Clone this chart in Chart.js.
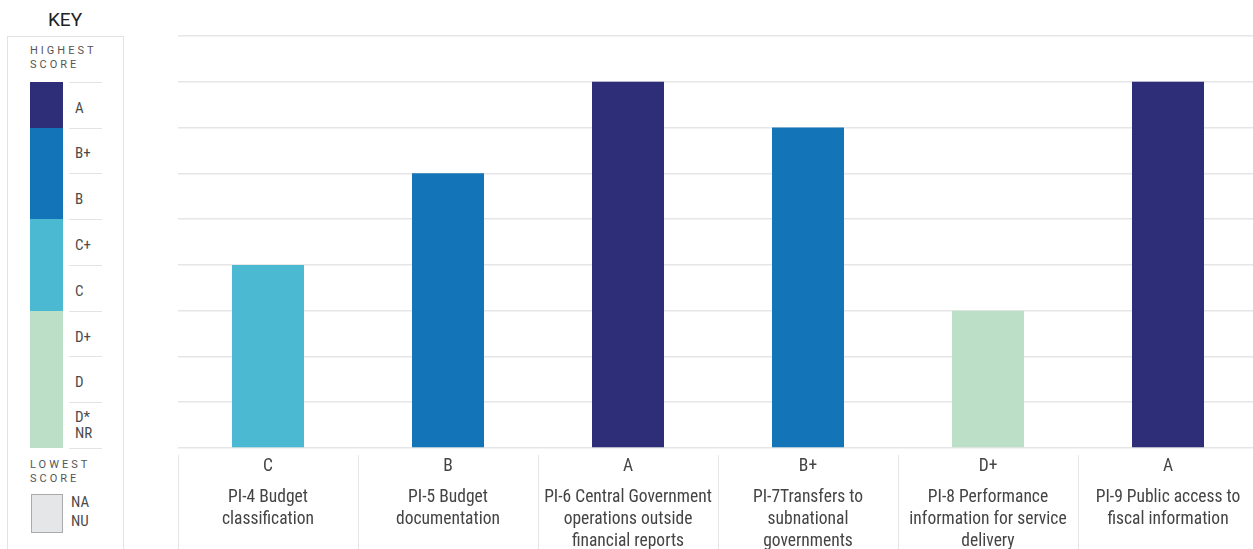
<!DOCTYPE html>
<html>
<head>
<meta charset="utf-8">
<script src="https://cdn.jsdelivr.net/npm/chart.js@4.4.1/dist/chart.umd.min.js"></script>
<style>
    body { margin: 0; width: 1253px; height: 549px; background: #fff; overflow: hidden; position: relative;
           font-family: "Roboto Condensed", "Liberation Sans Narrow", Roboto, sans-serif; color: #333; }
    .abs { position: absolute; }
    #key-title { left: 0; width: 130px; top: 8px; text-align: center; font-family: Roboto, sans-serif; font-size: 19px; font-weight: 400; color: #222; }
    #key-box { left: 7px; top: 36px; width: 115px; height: 530px; border: 1px solid #e3e3e3; }
    .caps { font-family: Roboto, sans-serif; font-size: 11px; letter-spacing: 3px; color: #555; line-height: 14px; }
    .band { left: 30px; width: 33px; }
    .kline { left: 69px; width: 33px; height: 1px; background: #e3e3e3; }
    .klabel { left: 75px; font-size: 15px; color: #4a4a4a; line-height: 16px; }
    #chart-wrap { left: 178px; top: 0; width: 1080px; height: 549px; }
</style>
</head>
<body>
<div id="key-title" class="abs">KEY</div>
<div id="key-box" class="abs"></div>
<div class="abs caps" style="left:30px; top:44px;">HIGHEST<br>SCORE</div>
<div id="key-items"></div>
<div class="abs caps" style="left:30px; top:458px;">LOWEST<br>SCORE</div>
<div class="abs" style="left:31px; top:494px; width:30px; height:37px; background:#e5e6e8; border:1px solid #aaa;"></div>
<div class="abs klabel" style="left:71px; top:494px;">NA</div>
<div class="abs klabel" style="left:71px; top:513px;">NU</div>
<div id="chart-wrap" class="abs"><canvas id="scoreChart"></canvas></div>

<script>
// Données
const categories = [
    ['PI-4 Budget', 'classification'],
    ['PI-5 Budget', 'documentation'],
    ['PI-6 Central Government', 'operations outside', 'financial reports'],
    ['PI-7Transfers to', 'subnational', 'governments'],
    ['PI-8 Performance', 'information for service', 'delivery'],
    ['PI-9 Public access to', 'fiscal information']
];
const scores = ['C', 'B', 'A', 'B+', 'D+', 'A'];
const scoreValues = [4, 6, 8, 7, 3, 8];

// Échelle des notes (du haut vers le bas) pour la légende
const keyLabels = ['A', 'B+', 'B', 'C+', 'C', 'D+', 'D', 'D*\nNR'];
const keyLevels = [8, 7, 6, 5, 4, 3, 2, 1];

function scoreColor(v) {
    if (v >= 8) return '#2e2d78';
    if (v >= 6) return '#1474b8';
    if (v >= 4) return '#4ab9d1';
    return '#bbdfc7';
}

// Légende à gauche, alignée sur les lignes de la grille
function buildKey(chart) {
    const yScale = chart.scales.y;
    const container = document.getElementById('key-items');
    let html = '';
    keyLevels.forEach((level, i) => {
        const top = yScale.getPixelForValue(level);
        const bottom = yScale.getPixelForValue(level - 1);
        html += `<div class="abs band" style="top:${top}px; height:${bottom - top}px; background:${scoreColor(level)}"></div>`;
        html += `<div class="abs kline" style="top:${top}px"></div>`;
        const lines = keyLabels[i].split('\n');
        const mid = (top + bottom) / 2;
        const start = lines.length > 1 ? mid - 16 : mid - 5;
        lines.forEach((txt, j) => {
            html += `<div class="abs klabel" style="top:${start + j * 16}px">${txt}</div>`;
        });
    });
    html += `<div class="abs kline" style="top:${yScale.getPixelForValue(0)}px"></div>`;
    container.innerHTML = html;
}

// Étiquettes sous les barres + séparateurs
const bottomLabels = {
    id: 'bottomLabels',
    afterDraw(chart) {
        const ctx = chart.ctx;
        const x = chart.scales.x;
        const base = chart.chartArea.bottom;
        const step = x.getPixelForValue(1) - x.getPixelForValue(0);
        ctx.save();
        ctx.strokeStyle = '#e6e6e6';
        ctx.lineWidth = 1;
        ctx.fillStyle = '#444';
        ctx.textAlign = 'center';
        ctx.textBaseline = 'middle';
        categories.forEach((lines, i) => {
            const cx = x.getPixelForValue(i);
            const left = Math.round(cx - step / 2) + 0.5;
            ctx.beginPath();
            ctx.moveTo(left, base + 7);
            ctx.lineTo(left, chart.height);
            ctx.stroke();
            ctx.font = '17.5px "Roboto Condensed", "Liberation Sans Narrow", Roboto, sans-serif';
            ctx.fillText(scores[i], cx, base + 19);
            lines.forEach((txt, j) => {
                ctx.fillText(txt, cx, base + 50 + j * 22);
            });
        });
        ctx.restore();
    }
};

const chart = new Chart(document.getElementById('scoreChart'), {
    type: 'bar',
    data: {
        labels: scores,
        datasets: [{
            data: scoreValues,
            backgroundColor: scoreValues.map(scoreColor),
            borderWidth: 0,
            barPercentage: 0.4,
            categoryPercentage: 1
        }]
    },
    options: {
        responsive: true,
        maintainAspectRatio: false,
        animation: false,
        layout: { padding: { top: 36, bottom: 101, left: 0, right: 0 } },
        scales: {
            x: { display: false },
            y: {
                min: 0,
                max: 9,
                afterFit(scale) { scale.width = 0; },
                ticks: { display: false, stepSize: 1 },
                border: { display: false },
                grid: { color: '#e6e6e6', lineWidth: 1.5, drawTicks: false }
            }
        },
        plugins: {
            legend: { display: false },
            tooltip: { enabled: false }
        }
    },
    plugins: [bottomLabels]
});

buildKey(chart);
</script>
</body>
</html>
